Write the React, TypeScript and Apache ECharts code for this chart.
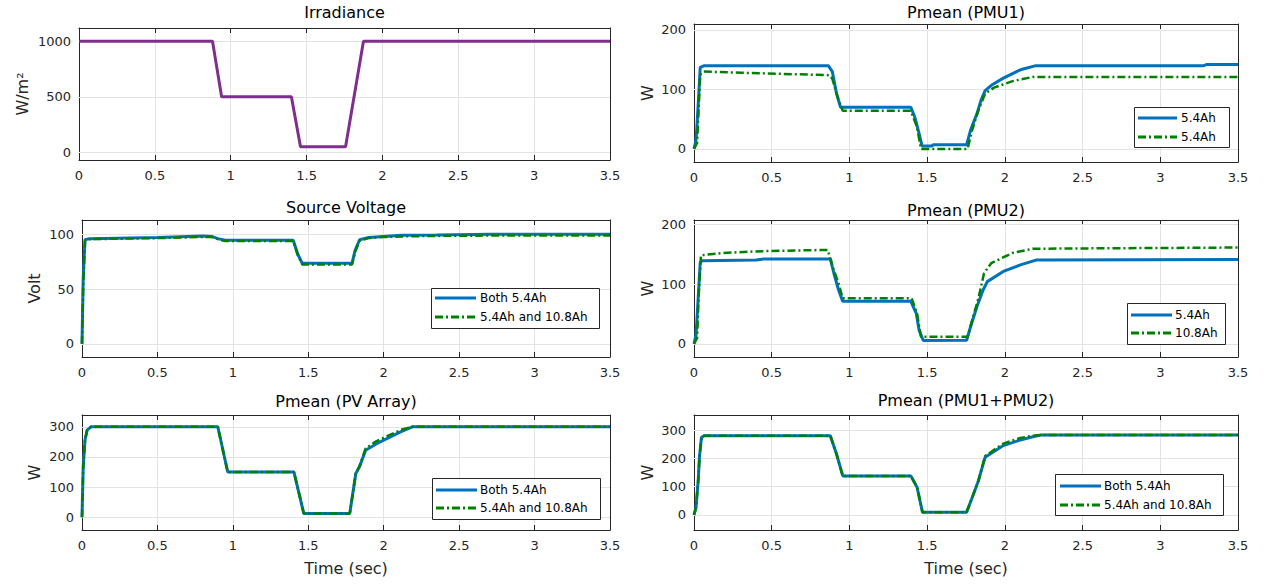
import React, { useEffect, useRef } from 'react';
import * as echarts from 'echarts';

// ---------- data ----------
const xTickValues = [0, 0.5, 1, 1.5, 2, 2.5, 3, 3.5];

// Irradiance (W/m^2)
const irrTime = [0, 0.88, 0.94, 1.40, 1.46, 1.757, 1.875, 3.5];
const irrValue = [1000, 1000, 500, 500, 50, 50, 1000, 1000];

// Pmean (PMU1)
const pmu1BlueTime = [0, 0.013, 0.02, 0.032, 0.04, 0.066, 0.864, 0.89, 0.917, 0.943, 1.395, 1.42, 1.448, 1.467, 1.53, 1.54, 1.754, 1.78, 1.82, 1.847, 1.873, 1.913, 1.99, 2.1, 2.2, 3.28, 3.3, 3.5];
const pmu1BlueValue = [0, 15, 43, 98, 137, 140, 140, 130, 93, 70, 70, 54, 26, 5, 5, 7, 7, 32, 59, 82, 98, 107, 119, 133, 140, 140, 142, 142];
const pmu1GreenTime = [0, 0.02, 0.027, 0.04, 0.06, 0.3, 0.87, 0.89, 0.93, 0.957, 1.395, 1.435, 1.46, 1.76, 1.79, 1.83, 1.873, 1.93, 2.05, 2.18, 3.5];
const pmu1GreenValue = [0, 10, 50, 125, 130, 128, 124, 118, 82, 64, 64, 37, 0, 0, 32, 65, 93, 103, 114, 121, 121];

// Source Voltage (Volt)
const svTime = [0, 0.008, 0.02, 0.05, 0.5, 0.8, 0.86, 0.9, 0.95, 1.40, 1.43, 1.46, 1.79, 1.81, 1.84, 1.9, 2.0, 2.12, 2.35, 2.7, 3.5];
const svBlueValue = [0, 60, 95, 96, 97, 98.5, 98, 96, 94.5, 94.5, 82, 73.5, 73.5, 85, 95, 97, 98, 99, 99.3, 100, 100];
const svGreenValue = [0, 55, 94, 95.5, 96.5, 97.5, 97.5, 95.5, 93.8, 93.8, 81, 72.5, 72.5, 84, 94, 96.5, 97.5, 98, 98.5, 98.8, 98.8];

// Pmean (PMU2)
const pmu2BlueTime = [0, 0.013, 0.02, 0.032, 0.04, 0.053, 0.4, 0.45, 0.877, 0.9, 0.93, 0.957, 1.395, 1.43, 1.448, 1.475, 1.754, 1.78, 1.82, 1.86, 1.887, 1.99, 2.1, 2.2, 3.5];
const pmu2BlueValue = [0, 15, 45, 100, 136, 139, 140, 142, 142, 118, 90, 71, 71, 51, 23, 5.5, 6, 29, 62, 90, 104, 121, 132, 140, 141];
const pmu2GreenTime = [0, 0.02, 0.03, 0.045, 0.19, 0.45, 0.86, 0.9, 0.93, 0.957, 1.40, 1.435, 1.46, 1.76, 1.79, 1.83, 1.866, 1.913, 2.05, 2.18, 3.5];
const pmu2GreenValue = [0, 10, 80, 148, 152, 155, 157, 123, 101, 76, 76, 51, 12, 12, 40, 76, 118, 135, 152, 159, 161];

// Pmean (PV Array)
const pvTime = [0, 0.008, 0.02, 0.034, 0.06, 0.9, 0.966, 1.405, 1.47, 1.775, 1.815, 1.84, 1.88, 1.95, 2.01, 2.115, 2.19, 3.5];
const pvBlueValue = [0, 168, 256, 289, 300, 300, 150, 150, 13, 13, 145, 168, 222, 243, 258, 284, 300, 300];
const pvGreenValue = [0, 168, 256, 289, 300, 300, 150, 150, 13, 13, 145, 170, 228, 252, 266, 290, 300, 300];

// Pmean (PMU1+PMU2)
const sumTime = [0, 0.013, 0.027, 0.035, 0.048, 0.066, 0.877, 0.917, 0.957, 1.395, 1.435, 1.47, 1.754, 1.79, 1.83, 1.873, 1.99, 2.1, 2.18, 2.23, 3.5];
const sumBlueValue = [0, 27, 121, 204, 274, 280, 280, 215, 138, 138, 98, 10, 10, 62, 121, 204, 245, 265, 276, 282, 282];
const sumGreenValue = [0, 27, 121, 204, 274, 280, 280, 215, 138, 138, 98, 10, 10, 62, 121, 208, 252, 272, 280, 282, 282];

const titles = ['Irradiance', 'Pmean (PMU1)', 'Source Voltage', 'Pmean (PMU2)', 'Pmean (PV Array)', 'Pmean (PMU1+PMU2)'];
const yNames = ['W/m²', 'W', 'Volt', 'W', 'W', 'W'];
const yTicks = [[0, 500, 1000], [0, 100, 200], [0, 50, 100], [0, 100, 200], [0, 100, 200, 300], [0, 100, 200, 300]];
const yLimits = [[-70, 1120], [-22, 210], [-12, 113], [-22, 207], [-42, 339], [-53, 353]];
const legendLabels: (string[] | null)[] = [
  null,
  ['5.4Ah', '5.4Ah'],
  ['Both 5.4Ah', '5.4Ah and 10.8Ah'],
  ['5.4Ah', '10.8Ah'],
  ['Both 5.4Ah', '5.4Ah and 10.8Ah'],
  ['Both 5.4Ah', '5.4Ah and 10.8Ah'],
];

// ---------- layout / style ----------
const FONT = '"DejaVu Sans", "Liberation Sans", Arial, sans-serif';
const AX = '#262626';
const GRIDC = '#e3e3e3';
const BLUE = '#0072BD';
const GREEN = '#008000';
const PURPLE = '#7E2F8E';
const DASHDOT = [8, 3, 2, 3];

const grids = [
  { left: 79, top: 28, width: 531, height: 132 },
  { left: 694, top: 24, width: 544, height: 138 },
  { left: 82, top: 220, width: 528, height: 137 },
  { left: 694, top: 220, width: 544, height: 137 },
  { left: 82, top: 415, width: 528, height: 115 },
  { left: 694, top: 415, width: 544, height: 115 },
];
const titleTops = [4, 4, 199, 202, 393, 392];
const yNameGaps = [49, 39, 40, 39, 40, 39];
const legendBoxes = [
  null,
  { x: 1134, y: 107, w: 95, h: 40, r1: 118, r2: 137, lx: 1138, lw: 39, tx: 1181 },
  { x: 431, y: 288, w: 168, h: 40, r1: 298, r2: 317, lx: 435, lw: 41, tx: 480 },
  { x: 1127, y: 303, w: 98, h: 41, r1: 315, r2: 333, lx: 1131, lw: 41, tx: 1175 },
  { x: 432, y: 478, w: 168, h: 41, r1: 490, r2: 508, lx: 436, lw: 41, tx: 480 },
  { x: 1055, y: 474, w: 168, h: 41, r1: 486, r2: 505, lx: 1060, lw: 41, tx: 1104 },
];

const zip = (t: number[], v: number[]) => t.map((x, i) => [x, v[i]]);

const panelSeries = [
  [{ name: 'Irradiance', data: zip(irrTime, irrValue), color: PURPLE, dash: null as any, width: 3 }],
  [
    { name: '5.4Ah', data: zip(pmu1BlueTime, pmu1BlueValue), color: BLUE, dash: null, width: 3 },
    { name: '5.4Ah', data: zip(pmu1GreenTime, pmu1GreenValue), color: GREEN, dash: DASHDOT, width: 2.5 },
  ],
  [
    { name: 'Both 5.4Ah', data: zip(svTime, svBlueValue), color: BLUE, dash: null, width: 3 },
    { name: '5.4Ah and 10.8Ah', data: zip(svTime, svGreenValue), color: GREEN, dash: DASHDOT, width: 2.5 },
  ],
  [
    { name: '5.4Ah', data: zip(pmu2BlueTime, pmu2BlueValue), color: BLUE, dash: null, width: 3 },
    { name: '10.8Ah', data: zip(pmu2GreenTime, pmu2GreenValue), color: GREEN, dash: DASHDOT, width: 2.5 },
  ],
  [
    { name: 'Both 5.4Ah', data: zip(pvTime, pvBlueValue), color: BLUE, dash: null, width: 3 },
    { name: '5.4Ah and 10.8Ah', data: zip(pvTime, pvGreenValue), color: GREEN, dash: DASHDOT, width: 2.5 },
  ],
  [
    { name: 'Both 5.4Ah', data: zip(sumTime, sumBlueValue), color: BLUE, dash: null, width: 3 },
    { name: '5.4Ah and 10.8Ah', data: zip(sumTime, sumGreenValue), color: GREEN, dash: DASHDOT, width: 2.5 },
  ],
];

function buildOption() {
  const xAxis: any[] = [];
  const yAxis: any[] = [];
  const series: any[] = [];
  const graphic: any[] = [];
  const title: any[] = [];

  grids.forEach((g, i) => {
    const tickStyle = { color: AX, width: 1 };
    xAxis.push({
      type: 'value', gridIndex: i, min: 0, max: 3.5, interval: 0.5, position: 'bottom',
      axisLine: { show: true, onZero: false, lineStyle: tickStyle },
      axisTick: { show: true, inside: true, length: 5, lineStyle: tickStyle },
      axisLabel: {
        color: AX, fontSize: 13, fontFamily: FONT, margin: 9, showMinLabel: true, showMaxLabel: true,
        formatter: (v: number) => String(v),
      },
      splitLine: { show: true, lineStyle: { color: GRIDC, width: 1 } },
      name: i >= 4 ? 'Time (sec)' : '', nameLocation: 'middle', nameGap: 30,
      nameTextStyle: { color: AX, fontSize: 16, fontFamily: FONT },
    });
    xAxis.push({
      type: 'value', gridIndex: i, min: 0, max: 3.5, interval: 0.5, position: 'top',
      axisLine: { show: true, onZero: false, lineStyle: tickStyle },
      axisTick: { show: true, inside: true, length: 5, lineStyle: tickStyle },
      axisLabel: { show: false }, splitLine: { show: false },
    });
    yAxis.push({
      type: 'value', gridIndex: i, min: yLimits[i][0], max: yLimits[i][1], position: 'left',
      axisLine: { show: true, onZero: false, lineStyle: tickStyle },
      axisTick: { show: true, inside: true, length: 5, customValues: yTicks[i], lineStyle: tickStyle },
      axisLabel: {
        customValues: yTicks[i], color: AX, fontSize: 13, fontFamily: FONT, margin: 8,
        formatter: (v: number) => String(v),
      },
      splitLine: { show: false },
      name: yNames[i], nameLocation: 'middle', nameGap: yNameGaps[i],
      nameTextStyle: { color: AX, fontSize: 16, fontFamily: FONT },
    });
    yAxis.push({
      type: 'value', gridIndex: i, min: yLimits[i][0], max: yLimits[i][1], position: 'right',
      axisLine: { show: true, onZero: false, lineStyle: tickStyle },
      axisTick: { show: true, inside: true, length: 5, customValues: yTicks[i], lineStyle: tickStyle },
      axisLabel: { show: false }, splitLine: { show: false },
    });

    // horizontal grid lines at tick values (kept beneath the data lines)
    series.push({
      type: 'line', xAxisIndex: 2 * i, yAxisIndex: 2 * i, data: [], silent: true, z: 1,
      markLine: {
        z: 1, silent: true, symbol: ['none', 'none'], label: { show: false }, animation: false,
        lineStyle: { color: GRIDC, type: 'solid', width: 1 },
        emphasis: { disabled: true },
        data: yTicks[i].map((v) => ({ yAxis: v })),
      },
    });

    panelSeries[i].forEach((s) => {
      series.push({
        type: 'line', name: s.name, xAxisIndex: 2 * i, yAxisIndex: 2 * i,
        data: s.data, showSymbol: false, symbol: 'none', z: 3,
        lineStyle: { color: s.color, width: s.width, type: s.dash ? s.dash : 'solid' },
        itemStyle: { color: s.color },
        emphasis: { disabled: true },
      });
    });

    title.push({
      text: titles[i], left: g.left + g.width / 2, top: titleTops[i], textAlign: 'center', padding: 0,
      textStyle: { color: '#000', fontSize: 16, fontWeight: 'normal', fontFamily: FONT },
    });

    const lb = legendBoxes[i];
    const labels = legendLabels[i];
    if (lb && labels) {
      graphic.push({
        type: 'rect', z: 100, shape: { x: lb.x + 0.5, y: lb.y + 0.5, width: lb.w, height: lb.h },
        style: { fill: '#fff', stroke: AX, lineWidth: 1 },
      });
      const rows = [lb.r1, lb.r2];
      panelSeries[i].forEach((s, k) => {
        graphic.push({
          type: 'line', z: 101,
          shape: { x1: lb.lx, y1: rows[k], x2: lb.lx + lb.lw, y2: rows[k] },
          style: { stroke: s.color, lineWidth: 3, lineDash: s.dash ? s.dash : null },
        });
        graphic.push({
          type: 'text', z: 101, x: lb.tx, y: rows[k],
          style: { text: labels[k], fill: '#000', font: `12px ${FONT}`, verticalAlign: 'middle', align: 'left' },
        });
      });
    }
  });

  return {
    animation: false,
    backgroundColor: '#fff',
    title,
    grid: grids.map((g) => ({ ...g, containLabel: false })),
    xAxis,
    yAxis,
    series,
    graphic,
  };
}

export default function App() {
  const ref = useRef<HTMLDivElement>(null);
  useEffect(() => {
    if (!ref.current) return;
    const chart = echarts.init(ref.current, undefined, { renderer: 'svg' });
    chart.setOption(buildOption() as any);
    return () => chart.dispose();
  }, []);
  return (
    <div
      ref={ref}
      style={{ position: 'absolute', left: 0, top: 0, width: 1267, height: 585, background: '#fff' }}
    />
  );
}
